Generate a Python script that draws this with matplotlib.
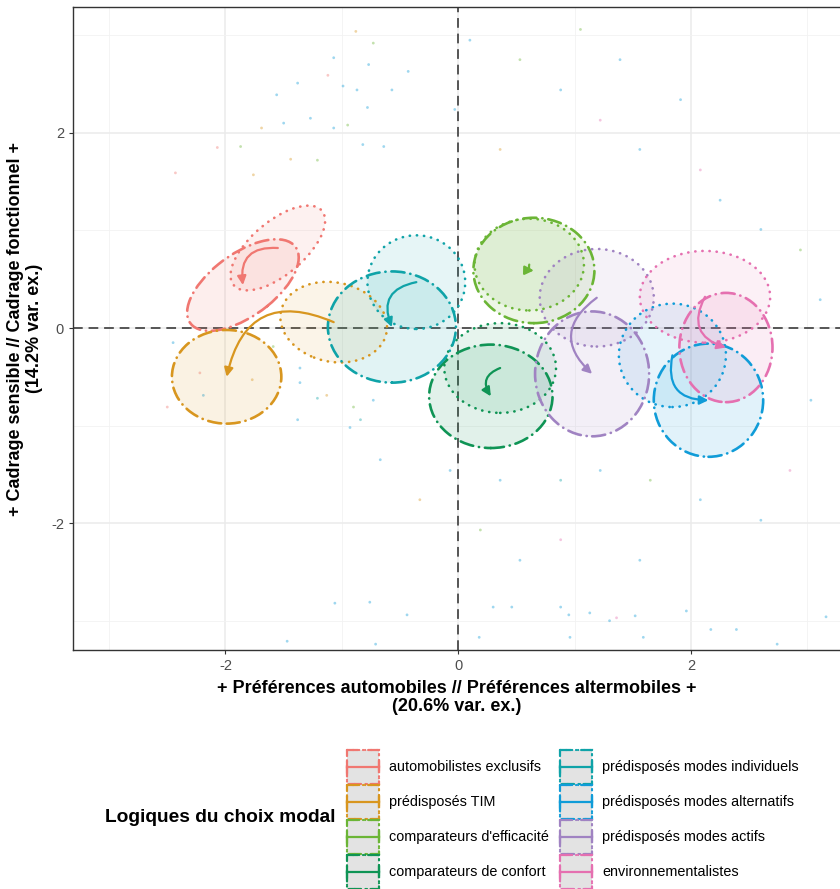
import matplotlib
matplotlib.use("Agg")
import matplotlib.pyplot as plt
from matplotlib.patches import Ellipse, FancyArrowPatch, Rectangle
import numpy as np

plt.rcParams['font.family'] = ['Liberation Sans', 'DejaVu Sans']
plt.rcParams['axes.unicode_minus'] = False

# groups (legend order)
groups = ["automobilistes exclusifs", "prédisposés TIM", "comparateurs d'efficacité",
          "comparateurs de confort", "prédisposés modes individuels",
          "prédisposés modes alternatifs", "prédisposés modes actifs", "environnementalistes"]
colors = ["#F07771", "#D8961F", "#6BB536", "#0F9455", "#0FA3A8", "#109CD8", "#A083C2", "#E570B0"]

# ellipse at time 1 (dotted): centre x, centre y, semi-axis a, semi-axis b, angle (deg)
t1_x = [-1.55, -1.07, 0.61, 0.36, -0.36, 1.84, 1.19, 2.12]
t1_y = [0.82, 0.06, 0.65, -0.41, 0.47, -0.28, 0.31, 0.32]
t1_a = [0.54, 0.47, 0.47, 0.48, 0.42, 0.46, 0.49, 0.56]
t1_b = [0.25, 0.40, 0.47, 0.46, 0.48, 0.53, 0.50, 0.47]
t1_ang = [48, -25, 0, 0, 0, 0, 0, 0]

# ellipse at time 2 (dot-dash)
t2_x = [-1.85, -1.99, 0.65, 0.28, -0.57, 2.15, 1.15, 2.30]
t2_y = [0.44, -0.50, 0.59, -0.70, 0.01, -0.74, -0.47, -0.20]
t2_a = [0.60, 0.47, 0.52, 0.53, 0.55, 0.47, 0.49, 0.40]
t2_b = [0.30, 0.48, 0.54, 0.53, 0.57, 0.58, 0.64, 0.56]
t2_ang = [44, 0, 0, 0, 0, 0, 0, 0]

# individual points (a sample of the cloud)
pt_x = [-1.07, -0.77, -1.38, -1.56, -0.99, -0.87, -1.12, -0.88, -0.73, -2.43, -2.07, -1.87,
        -1.76, -1.69, -1.50, -1.27, -0.78, -0.57, -0.43, -1.07, -0.95, -1.21, -0.64, -1.44,
        -0.82, -1.06, -0.76, -0.44, -1.47, -0.71, 0.30, 0.46, 0.88, 0.95, 1.13, 1.52, 1.96,
        0.18, 0.96, 1.59, 2.17, 2.39, 2.74, 3.16, 1.36, 1.30,
        -2.45, -2.22, -2.19, -1.77, -1.59, -1.36, -1.21, -1.13, -1.36, -0.90, -0.73, -0.84,
        -2.50, -0.93, -1.38,
        0.10, 0.53, 0.88, 1.22, 1.56, 0.36, -0.03, 1.05, 1.39, 1.91, 2.08, 2.25, 2.60, 2.94,
        3.11, 3.03, 2.85, 2.60, 2.08, 1.65, 1.22, 0.88, 0.36, -0.07, -0.33, -0.67, 1.56, 0.88,
        0.53, 0.19]
pt_y = [2.77, 2.70, 2.51, 2.39, 2.48, 2.44, 2.59, 3.04, 2.92, 1.59, 1.85, 1.86,
        1.57, 2.05, 2.10, 2.15, 2.26, 2.44, 2.63, 2.05, 2.08, 1.72, 1.86, 1.73,
        1.88, -2.82, -2.81, -2.94, -3.21, -3.24, -2.86, -2.86, -2.86, -2.94, -2.92, -2.95, -2.90,
        -3.17, -3.17, -3.17, -3.09, -3.09, -3.24, -2.96, -2.97, -3.00,
        -0.15, -0.46, -0.69, -0.53, -0.19, -0.56, -0.72, -0.69, -0.41, -0.81, -0.74, -0.94,
        -0.81, -1.02, -0.94,
        2.95, 2.75, 2.44, 2.13, 1.83, 1.83, 2.24, 3.06, 2.75, 2.34, 1.62, 1.31, 1.01, 0.80,
        0.29, -0.74, -1.46, -1.97, -1.76, -1.56, -1.46, -1.56, -1.56, -1.46, -1.76, -1.35, -2.38, -2.17,
        -2.38, -2.07]
pt_g = [5, 5, 5, 5, 5, 5, 0, 1, 2, 0, 0, 2,
        1, 1, 5, 5, 5, 5, 5, 5, 2, 2, 5, 1,
        5, 5, 5, 5, 5, 5, 5, 5, 5, 5, 5, 5, 5,
        5, 5, 5, 5, 5, 5, 5, 7, 5,
        5, 0, 5, 1, 2, 5, 4, 1, 5, 2, 5, 4,
        0, 5, 5,
        5, 2, 5, 7, 5, 1, 5, 2, 5, 5, 7, 5, 5, 2,
        5, 5, 7, 5, 5, 2, 5, 4, 5, 5, 1, 5, 5, 7,
        5, 2]

xlim = (-3.31, 3.28)
ylim = (-3.30, 3.29)

fig = plt.figure(figsize=(8.4, 8.89), dpi=100)
ax = fig.add_axes([73 / 840, 1 - 650 / 889, 1 - 73 / 840, (650 - 7) / 889])
ax.set_xlim(xlim)
ax.set_ylim(ylim)
ax.set_xticks([-2, 0, 2])
ax.set_yticks([-2, 0, 2])
ax.set_xticks([-3, -1, 1, 3], minor=True)
ax.set_yticks([-3, -1, 1, 3], minor=True)
ax.grid(True, which='major', color='#ebebeb', lw=1.1, zorder=0)
ax.grid(True, which='minor', color='#f2f2f2', lw=0.6, zorder=0)
ax.tick_params(which='major', length=3, color='#333333', labelcolor='#4d4d4d', labelsize=10.5)
ax.tick_params(which='minor', length=0)
for s in ['left', 'bottom', 'top']:
    ax.spines[s].set_color('#333333')
    ax.spines[s].set_linewidth(1.0)
ax.spines['right'].set_visible(False)
ax.set_axisbelow(True)

pcol = [colors[g] for g in pt_g]
ax.scatter(pt_x, pt_y, s=4, c=pcol, alpha=0.4, lw=0, zorder=1)

ax.axhline(0, color='#555555', lw=1.4, ls=(0, (5, 3)), zorder=2)
ax.axvline(0, color='#555555', lw=1.4, ls=(0, (5, 3)), zorder=2)

dot_ls = (0, (0.1, 2.6))
dash_ls = (0, (5, 2.2, 0.1, 2.2))

for i in range(len(groups)):
    c = colors[i]
    e1 = Ellipse((t1_x[i], t1_y[i]), 2 * t1_a[i], 2 * t1_b[i], angle=t1_ang[i],
                 facecolor=c, alpha=0.10, edgecolor='none', zorder=3)
    ax.add_patch(e1)
    e1b = Ellipse((t1_x[i], t1_y[i]), 2 * t1_a[i], 2 * t1_b[i], angle=t1_ang[i],
                  facecolor='none', edgecolor=c, lw=1.9, ls=dot_ls, capstyle='round', zorder=4)
    ax.add_patch(e1b)
    e2 = Ellipse((t2_x[i], t2_y[i]), 2 * t2_a[i], 2 * t2_b[i], angle=t2_ang[i],
                 facecolor=c, alpha=0.12, edgecolor='none', zorder=3)
    ax.add_patch(e2)
    e2b = Ellipse((t2_x[i], t2_y[i]), 2 * t2_a[i], 2 * t2_b[i], angle=t2_ang[i],
                  facecolor='none', edgecolor=c, lw=1.9, ls=dash_ls, capstyle='round', zorder=4)
    ax.add_patch(e2b)
    arr = FancyArrowPatch((t1_x[i], t1_y[i]), (t2_x[i], t2_y[i]),
                          connectionstyle="arc3,rad=0.6", arrowstyle="-|>",
                          mutation_scale=13, color=c, lw=1.6, shrinkA=0, shrinkB=0, zorder=5)
    ax.add_patch(arr)

ax.set_xlabel("+ Préférences automobiles // Préférences altermobiles +\n(20.6% var. ex.)",
              fontsize=13, fontweight='bold', labelpad=5, linespacing=1.1)
ax.set_ylabel("+ Cadrage sensible // Cadrage fonctionnel +\n(14.2% var. ex.)",
              fontsize=13, fontweight='bold', labelpad=6, linespacing=1.1)

# legend drawn in pixel space
lax = fig.add_axes([0, 0, 1, 1], zorder=10)
lax.set_xlim(0, 840)
lax.set_ylim(889, 0)
lax.axis('off')
lax.text(105, 818, "Logiques du choix modal", fontsize=13.8, fontweight='bold',
         va='center', ha='left')
col_x = [347, 560]
row_y = [767, 802, 837, 872]
kw, kh = 32, 34
for i, g in enumerate(groups):
    cx = col_x[i // 4]
    cy = row_y[i % 4]
    c = colors[i]
    lax.add_patch(Rectangle((cx, cy - kh / 2), kw, kh, facecolor='#e3e3e3', edgecolor='none'))
    lax.add_patch(Rectangle((cx, cy - kh / 2), kw, kh, facecolor='none', edgecolor=c,
                            lw=1.6, ls=dot_ls, capstyle='round'))
    lax.add_patch(Rectangle((cx, cy - kh / 2), kw, kh, facecolor='none', edgecolor=c,
                            lw=1.6, ls=dash_ls, capstyle='round'))
    lax.plot([cx, cx + kw], [cy, cy], color=c, lw=1.6)
    lax.plot([cx, cx], [cy - 5, cy + 5], color=c, lw=1.6)
    lax.plot([cx + kw, cx + kw], [cy - 5, cy + 5], color=c, lw=1.6)
    lax.text(cx + 42, cy, g, fontsize=10.4, va='center', ha='left', color='black')

fig.savefig("out.png", dpi=100)
